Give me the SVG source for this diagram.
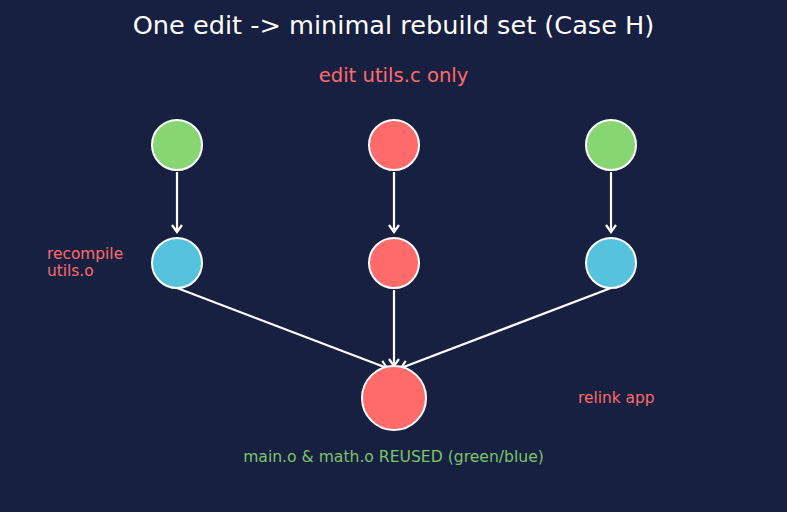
<svg xmlns="http://www.w3.org/2000/svg" width="787" height="512" viewBox="0 0 787 512">
<defs>
<style>
text{font-family:"DejaVu Sans","Liberation Sans",sans-serif}
.n{stroke:#ffffff;stroke-width:2}
.g{fill:#88d672}
.r{fill:#ff6b6b}
.b{fill:#56c3de}
.e{stroke:#ffffff;stroke-width:2.2;fill:none;marker-end:url(#ah)}
.lbl{fill:#ff6b6b;font-size:15.4px}
</style>
<marker id="ah" markerWidth="12" markerHeight="12" viewBox="0 0 12 12" refX="10" refY="6" orient="auto" markerUnits="userSpaceOnUse">
<path d="M3,1 L10,6 L3,11" fill="none" stroke="#ffffff" stroke-width="2.2"/>
</marker>
</defs>
<rect width="787" height="512" fill="#172040"/>
<text x="393.5" y="34" text-anchor="middle" fill="#ffffff" font-size="25.6">One edit -&gt; minimal rebuild set (Case H)</text>
<text x="393.5" y="82" text-anchor="middle" fill="#ff6b6b" font-size="19.6">edit utils.c only</text>
<g id="connectors">
<line class="e" x1="177" y1="172" x2="177" y2="232"/>
<line class="e" x1="394" y1="172" x2="394" y2="232"/>
<line class="e" x1="611" y1="172" x2="611" y2="232"/>
<line class="e" x1="177" y1="288" x2="387" y2="368"/>
<line class="e" x1="394" y1="290" x2="394" y2="366"/>
<line class="e" x1="611" y1="288" x2="401" y2="368"/>
</g>
<g id="main_c"><circle class="n g" cx="177" cy="145" r="25"/></g>
<g id="utils_c"><circle class="n r" cx="394" cy="145" r="25"/></g>
<g id="math_c"><circle class="n g" cx="611" cy="145" r="25"/></g>
<g id="main_o"><circle class="n b" cx="177" cy="263" r="25"/></g>
<g id="utils_o"><circle class="n r" cx="394" cy="263" r="25"/></g>
<g id="math_o"><circle class="n b" cx="611" cy="263" r="25"/></g>
<g id="app"><circle class="n r" cx="394" cy="398" r="32"/></g>
<text class="lbl" x="47" y="259">recompile</text>
<text class="lbl" x="47" y="276">utils.o</text>
<text class="lbl" x="578" y="403">relink app</text>
<text x="393.5" y="462" text-anchor="middle" fill="#7cc46a" font-size="15.6">main.o &amp; math.o REUSED (green/blue)</text>
</svg>
